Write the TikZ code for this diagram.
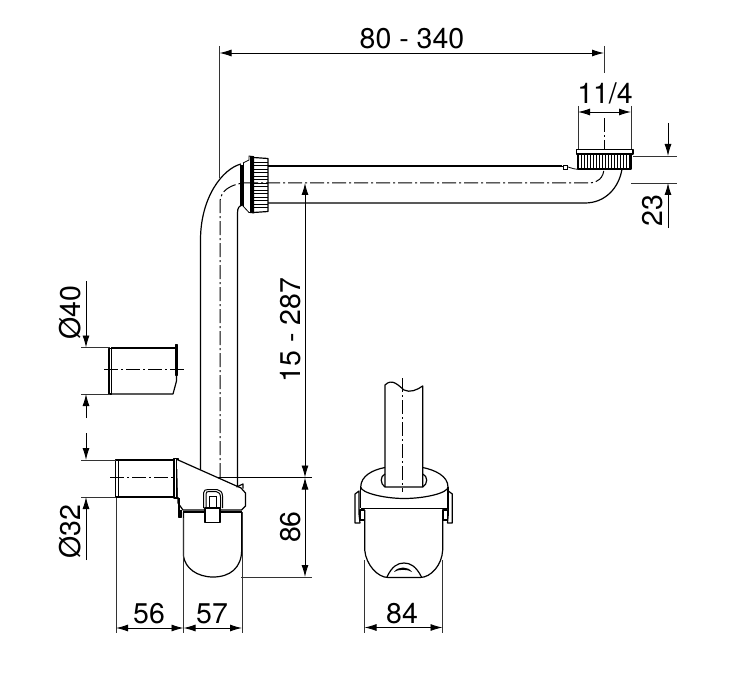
\documentclass[tikz,border=0pt]{standalone}
\usepackage{fontspec}
\setmainfont{TeX Gyre Heros}
\usetikzlibrary{arrows.meta}
\tikzset{
  outl/.style={line width=1.2pt,line join=round},
  thin line/.style={line width=0.8pt},
  extl/.style={line width=0.9pt,draw=black!80},
  dimr/.style={line width=0.9pt,-{Latex[length=12pt,width=7pt]}},
  dimb/.style={line width=0.9pt,{Latex[length=12pt,width=7pt]}-{Latex[length=12pt,width=7pt]}},
  axisl/.style={line width=1pt,dash pattern=on 14pt off 3pt on 2pt off 3pt},
  lab/.style={font=\fontsize{28.5}{28.5}\selectfont,inner sep=0pt}
}
\begin{document}
\begin{tikzpicture}[x=1pt,y=-1pt]
\useasboundingbox (0,0) rectangle (742,682);
% horizontal pipe
\draw[outl] (268,166) -- (562,166);
\draw[outl] (268,203) -- (585,203) .. controls (605,203) and (619,188) .. (622,169);
\draw[thin line] (568,167) .. controls (572,168) and (575,170) .. (581,169);
\draw[thin line,fill=white] (563.5,165) rectangle (567,169);
\draw[thin line] (562,166) -- (564,166);
% vertical pipe and elbow
\draw[outl] (200.5,471) -- (200.5,240) .. controls (200.5,198) and (222,169) .. (241,164);
\draw[outl] (237.5,487) -- (237.5,213) .. controls (237.5,208) and (239,205.5) .. (243,205);
% union nut
\fill (240,165) rectangle (243,205);
\draw[thin line] (243,163) -- (243,206) (250,162) -- (250,212);
\draw[thin line] (243,163) -- (249,160) -- (249,156) -- (253.5,156.5) -- (253.5,213) -- (249,212.5) -- (243,206);
\draw[outl] (253.5,157.5) -- (268,158.5) -- (268,211.5) -- (253.5,212.5) -- cycle;
\foreach \ypos in {162,165.5,...,209}
  \draw[line width=0.6pt] (254,\ypos) -- (268,\ypos);
\fill (250,156.5) rectangle (253.5,213);
% threaded end
\draw[outl] (576.5,149.5) rectangle (633,154);
\draw[outl] (578,154) -- (578,169) -- (631,169) -- (631,154);
\foreach \xpos in {581,584,...,629}
  \draw[line width=0.7pt] (\xpos,154) -- (\xpos,169);
% axis of the pipe run
\draw[axisl] (220,477) -- (220,203) .. controls (220,195) and (224,186) .. (243,183);
\draw[axisl] (244,183) -- (590,183) .. controls (597,183) and (604,178) .. (604,168);
\draw[axisl] (604,118) -- (604,150);
% loose sleeve
\draw[outl] (109,348.5) rectangle (111.5,394);
\draw[outl] (111,348) -- (175,348);
\draw[line width=1.6pt] (111,347.5) -- (126,347.5);
\draw[outl] (111,394) -- (173,394) -- (176.5,381) -- (176.5,375);
\draw[outl,fill=black] (175.5,345) rectangle (177.2,375);
\draw[axisl] (104,369) -- (184,369);
% siphon inlet
\draw[outl] (115.5,460) rectangle (118.5,497);
\draw[outl] (118,460) -- (174,460) (118,497) -- (174,497);
\draw[outl] (174,458.5) rectangle (178,498);
\draw[thin line] (176,458.5) -- (176,498);
\draw[axisl] (110,477.5) -- (178,477.5);
\draw[thin line] (180.5,476) rectangle (184,479.5);
\draw[thin line] (184,477.5) -- (312,477.5);
% siphon body
\draw[outl,fill=white] (177,459.5) -- (241,488) -- (245.5,493) -- (245.5,506) -- (241.5,510)
  -- (183,510) -- (178,503) -- (178,497);
\draw[outl] (236.5,487) -- (243,484) -- (243,488.5);
\draw[outl] (181,510) -- (181,517.5) -- (179,517.5) -- (179,498);
\draw[outl] (183,512) -- (241.7,512);
\draw[outl] (183.5,512) -- (183.5,556) .. controls (185,568) and (197,577) .. (213,577)
  .. controls (230,577) and (241.5,568) .. (241.7,550) -- (241.7,512);
% clip
\draw[line width=1pt,fill=white] (203.5,508) -- (203.5,493) .. controls (203.5,490) and (206,489.5) .. (208,489.5)
  -- (217,489.5) .. controls (220,490) and (222.5,492) .. (222.5,496) -- (222.5,508);
\draw[line width=1pt] (206,508) -- (206,494) .. controls (206,492) and (207,491.5) .. (209,491.5)
  -- (216,491.5) .. controls (218,492) and (220.5,493) .. (220.5,497) -- (220.5,508);
\draw[thin line] (209.5,508) -- (209.5,496) -- (216.5,496) -- (216.5,508);
\draw[outl,fill=white] (205,508) rectangle (220,522.5);
% side view
\draw[outl] (385,487) -- (385,385) .. controls (392,378) and (398,385) .. (404,390)
  .. controls (410,393) and (417,390) .. (422.7,386) -- (422.7,487) -- cycle;
\draw[outl] (385,467.5) .. controls (372,470) and (361,476) .. (360.7,487)
  .. controls (361,493) and (385,498.5) .. (404,498.5)
  .. controls (425,498.5) and (448,493) .. (448,487)
  .. controls (448,476) and (435,470) .. (422.7,467.5);
\draw[outl] (385,474) .. controls (380,476) and (380,484) .. (385,487);
\draw[outl] (422.7,474) .. controls (428,476) and (428,484) .. (422.7,487);
\draw[outl] (360.7,487) -- (360.7,508) (448,487) -- (448,508);
\draw[line width=1.6pt] (361,508.5) -- (448,508.5);
\draw[outl] (355,494) -- (359,491) -- (359,514) -- (360,523) -- (355,523) -- cycle;
\draw[outl] (452.3,494) -- (448.3,491) -- (448.3,514) -- (447.5,523) -- (452.3,523) -- cycle;
\draw[outl] (364.5,510) rectangle (360,520);
\draw[outl] (443,510) rectangle (447.5,520);
\draw[outl] (364.7,510) -- (364.7,550) .. controls (366,565) and (378,577.5) .. (388,577.5) -- (420,577.5)
  .. controls (431,577.5) and (442,565) .. (442.7,550) -- (442.7,510);
\draw[outl] (387,577) .. controls (392,566) and (398,563) .. (404,563) .. controls (410,563) and (416,566) .. (421.5,577);
\fill (394,572) .. controls (398,566) and (408,566) .. (412,572) .. controls (408,569) and (398,569) .. (394,572) -- cycle;
\draw[axisl] (402.5,378) -- (402.5,492);
% extension lines
\draw[extl] (219.5,46) -- (219.5,178);
\draw[extl] (604,46) -- (604,73);
\draw[extl] (578,106) -- (578,149) (631,106) -- (631,149);
\draw[extl] (633,156) -- (677,156) (631,183) -- (677,183);
\draw[extl] (81,347.5) -- (110,347.5) (81,394) -- (110,394);
\draw[extl] (81,460) -- (116,460) (81,497) -- (116,497);
\draw[extl] (116,498) -- (116,633) (183.5,518) -- (183.5,633) (242,512) -- (242,633);
\draw[extl] (241,577) -- (312,577);
\draw[extl] (364.5,560) -- (364.5,633) (442.5,560) -- (442.5,633);
% dimensions
\draw[dimb] (219.5,53) -- (604,53);
\draw[dimb] (578,112) -- (631,112);
\draw[dimr] (668,123) -- (668,156);
\draw[dimr] (668,228) -- (668,183);
\draw[dimb] (305,183) -- (305,477.5);
\draw[dimb] (305,477.5) -- (305,577);
\draw[dimr] (86,281) -- (86,347.5);
\draw[dimr] (86,418) -- (86,394);
\draw[dimr] (86,433) -- (86,460);
\draw[dimr] (86,560) -- (86,497);
\draw[dimb] (116,628) -- (183.5,628);
\draw[dimb] (183.5,628) -- (242,628);
\draw[dimb] (364.5,627.5) -- (442.5,627.5);
% labels
\node[lab] (lenrun) at (412,39) {80 - 340};
\node[lab] (thread) at (605,93) {11/4};
\node[lab,rotate=90] (offs) at (653,211) {23};
\node[lab,rotate=90] (height) at (291,330) {15 - 287};
\node[lab,rotate=90] (body) at (291,527) {86};
\node[lab,rotate=90] (dsleeve) at (70,313) {Ø40};
\node[lab,rotate=90] (dinlet) at (70,532) {Ø32};
\node[lab] (lsleeve) at (149,614) {56};
\node[lab] (lbody) at (212,614) {57};
\node[lab] (wbody) at (402,614) {84};
\end{tikzpicture}
\end{document}
